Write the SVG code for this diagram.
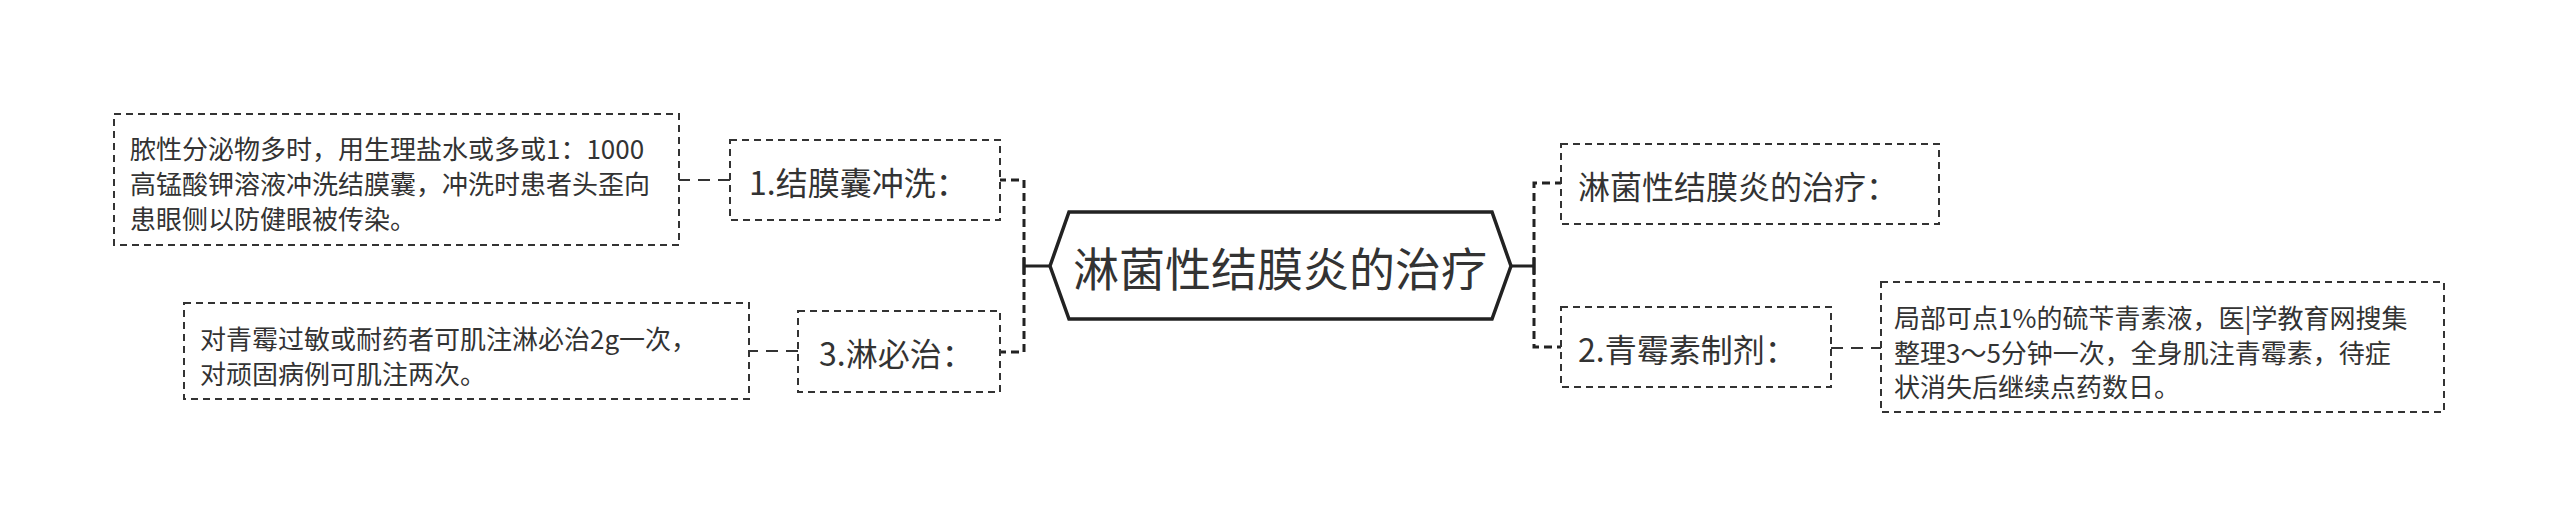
<svg xmlns="http://www.w3.org/2000/svg" width="2560" height="528" viewBox="0 0 2560 528">
<style>
.box{fill:#fff;stroke:#333;stroke-width:2;stroke-dasharray:7 5;}
.conn{fill:none;stroke:#222;stroke-width:3;stroke-dasharray:8 5;}
.link{fill:none;stroke:#333;stroke-width:2;stroke-dasharray:12 8;}
.solid{fill:none;stroke:#222;stroke-width:3;}
text{font-family:"Noto Sans CJK SC","Noto Sans",sans-serif;fill:#333;dominant-baseline:central;}
.t1{font-size:32px;}
.t2{font-size:26px;}
.t0{font-size:46px;}
</style>
<rect width="2560" height="528" fill="#fff"/>
<g id="connectors">
<path class="conn" d="M1024 266 V180 H1000"/>
<path class="conn" d="M1024 266 V352 H1000"/>
<path class="conn" d="M1534 266 V183 H1561"/>
<path class="conn" d="M1534 266 V347 H1561"/>
<path class="solid" d="M1024 266 H1050 M1024 257 V275"/>
<path class="solid" d="M1511 266 H1534 M1534 257 V275"/>
<path class="link" d="M730 180 H679"/>
<path class="link" d="M798 351 H749"/>
<path class="link" d="M1831 348 H1881"/>
</g>
<g id="root">
<polygon points="1050,266 1069,212 1492,212 1511,266 1492,319 1069,319" fill="#fff" stroke="#222" stroke-width="3.5"/>
<text class="t0" x="1280" y="266" text-anchor="middle">淋菌性结膜炎的治疗</text>
</g>
<g id="node-1">
<rect class="box" x="730" y="140" width="270" height="80"/>
<text class="t1" x="749" y="181">1.结膜囊冲洗：</text>
</g>
<g id="node-1-detail">
<rect class="box" x="114" y="114" width="565" height="131"/>
<text class="t2" x="130" y="147">脓性分泌物多时，用生理盐水或多或1：1000</text>
<text class="t2" x="130" y="182">高锰酸钾溶液冲洗结膜囊，冲洗时患者头歪向</text>
<text class="t2" x="130" y="217">患眼侧以防健眼被传染。</text>
</g>
<g id="node-3">
<rect class="box" x="798" y="311" width="202" height="81"/>
<text class="t1" x="819" y="352">3.淋必治：</text>
</g>
<g id="node-3-detail">
<rect class="box" x="184" y="303" width="565" height="96"/>
<text class="t2" x="200" y="337">对青霉过敏或耐药者可肌注淋必治2g一次，</text>
<text class="t2" x="200" y="372">对顽固病例可肌注两次。</text>
</g>
<g id="node-top-right">
<rect class="box" x="1561" y="144" width="378" height="80"/>
<text class="t1" x="1578" y="185">淋菌性结膜炎的治疗：</text>
</g>
<g id="node-2">
<rect class="box" x="1561" y="307" width="270" height="80"/>
<text class="t1" x="1578" y="348">2.青霉素制剂：</text>
</g>
<g id="node-2-detail">
<rect class="box" x="1881" y="282" width="563" height="130"/>
<text class="t2" x="1894" y="316">局部可点1%的硫苄青素液，医|学教育网搜集</text>
<text class="t2" x="1894" y="351">整理3～5分钟一次，全身肌注青霉素，待症</text>
<text class="t2" x="1894" y="385">状消失后继续点药数日。</text>
</g>
</svg>
